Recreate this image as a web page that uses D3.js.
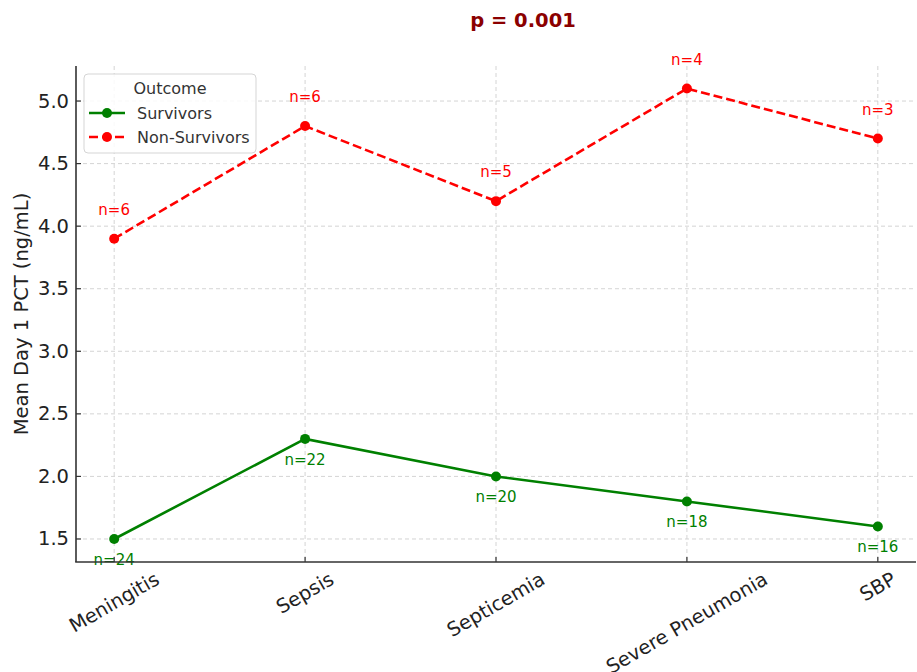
<!DOCTYPE html>
<html>
<head>
<meta charset="utf-8">
<script src="https://cdn.jsdelivr.net/npm/d3@7"></script>
<style>
  body { margin: 0; background: #fff; }
  text { font-family: "DejaVu Sans", sans-serif; }
</style>
</head>
<body>
<svg id="chart" width="917" height="672"></svg>
<script>
// data
const categories = ["Meningitis", "Sepsis", "Septicemia", "Severe Pneumonia", "SBP"];
const survivors = [1.5, 2.3, 2.0, 1.8, 1.6];
const survivorsN = [24, 22, 20, 18, 16];
const nonSurvivors = [3.9, 4.8, 4.2, 5.1, 4.7];
const nonSurvivorsN = [6, 6, 5, 4, 3];
const yTicks = [1.5, 2.0, 2.5, 3.0, 3.5, 4.0, 4.5, 5.0];

const width = 917, height = 672;
const margin = { top: 66, right: 1, bottom: 110, left: 76 };
const svg = d3.select("#chart");

const x = d3.scalePoint()
    .domain(categories)
    .range([margin.left, width - margin.right])
    .padding(0.2);

const y = d3.scaleLinear()
    .domain([1.316, 5.28])
    .range([height - margin.bottom, margin.top]);

const plotBottom = height - margin.bottom;
const tickFont = 19.5;

// grid
svg.append("g").selectAll("line")
    .data(yTicks)
    .join("line")
    .attr("x1", margin.left).attr("x2", width - margin.right)
    .attr("y1", d => y(d)).attr("y2", d => y(d))
    .attr("stroke", "#cfcfcf").attr("stroke-width", 0.9)
    .attr("stroke-dasharray", "4,3");

svg.append("g").selectAll("line")
    .data(categories)
    .join("line")
    .attr("x1", d => x(d)).attr("x2", d => x(d))
    .attr("y1", margin.top).attr("y2", plotBottom)
    .attr("stroke", "#cfcfcf").attr("stroke-width", 0.9)
    .attr("stroke-dasharray", "4,3");

// series
const series = [
    { name: "Survivors", values: survivors, n: survivorsN, color: "green", dash: null, labelDy: 21 },
    { name: "Non-Survivors", values: nonSurvivors, n: nonSurvivorsN, color: "red", dash: "9,4", labelDy: -29 }
];

const line = d3.line()
    .x((d, i) => x(categories[i]))
    .y(d => y(d));

series.forEach(s => {
    svg.append("path")
        .attr("d", line(s.values))
        .attr("fill", "none")
        .attr("stroke", s.color)
        .attr("stroke-width", 2.6)
        .attr("stroke-dasharray", s.dash);

    svg.append("g").selectAll("circle")
        .data(s.values)
        .join("circle")
        .attr("cx", (d, i) => x(categories[i]))
        .attr("cy", d => y(d))
        .attr("r", 5)
        .attr("fill", s.color);

    svg.append("g").selectAll("text")
        .data(s.values)
        .join("text")
        .attr("x", (d, i) => x(categories[i]))
        .attr("y", d => y(d) + s.labelDy)
        .attr("text-anchor", "middle")
        .attr("dominant-baseline", "central")
        .attr("font-size", 15)
        .attr("fill", s.color)
        .text((d, i) => "n=" + s.n[i]);
});

// axes (spines + inward ticks)
const axisColor = "#333";
svg.append("line")
    .attr("x1", margin.left).attr("x2", margin.left)
    .attr("y1", margin.top).attr("y2", plotBottom)
    .attr("stroke", axisColor).attr("stroke-width", 1.6);
svg.append("line")
    .attr("x1", margin.left - 0.8).attr("x2", width - margin.right)
    .attr("y1", plotBottom).attr("y2", plotBottom)
    .attr("stroke", axisColor).attr("stroke-width", 1.6);

svg.append("g").selectAll("line")
    .data(yTicks)
    .join("line")
    .attr("x1", margin.left).attr("x2", margin.left + 5)
    .attr("y1", d => y(d)).attr("y2", d => y(d))
    .attr("stroke", axisColor).attr("stroke-width", 1.2);

svg.append("g").selectAll("text")
    .data(yTicks)
    .join("text")
    .attr("x", margin.left - 7)
    .attr("y", d => y(d))
    .attr("text-anchor", "end")
    .attr("dominant-baseline", "central")
    .attr("font-size", tickFont)
    .attr("fill", "#222")
    .text(d => d.toFixed(1));

svg.append("g").selectAll("line")
    .data(categories)
    .join("line")
    .attr("x1", d => x(d)).attr("x2", d => x(d))
    .attr("y1", plotBottom).attr("y2", plotBottom - 5)
    .attr("stroke", axisColor).attr("stroke-width", 1.2);

// rotated x labels, bounding box centered on tick, top just below axis
const ang = 30 * Math.PI / 180;
const xl = svg.append("g").selectAll("text")
    .data(categories)
    .join("text")
    .attr("text-anchor", "middle")
    .attr("dominant-baseline", "central")
    .attr("font-size", tickFont)
    .attr("fill", "#222")
    .text(d => d);
xl.each(function(d) {
    const L = this.getComputedTextLength();
    const h = tickFont;
    const bh = L * Math.sin(ang) + h * Math.cos(ang);
    const cy = plotBottom + 7 + bh / 2;
    d3.select(this).attr("transform", `translate(${x(d)},${cy}) rotate(-30)`);
});

// y label
svg.append("text")
    .attr("transform", `translate(21,${(margin.top + plotBottom) / 2}) rotate(-90)`)
    .attr("text-anchor", "middle")
    .attr("dominant-baseline", "central")
    .attr("font-size", 19.5)
    .attr("fill", "#222")
    .text("Mean Day 1 PCT (ng/mL)");

// title
svg.append("text")
    .attr("x", 523).attr("y", 20)
    .attr("text-anchor", "middle")
    .attr("dominant-baseline", "central")
    .attr("font-size", 19.5)
    .attr("font-weight", "bold")
    .attr("fill", "darkred")
    .text("p = 0.001");

// legend
const lg = svg.append("g").attr("transform", "translate(84,74)");
lg.append("rect")
    .attr("width", 172).attr("height", 79)
    .attr("rx", 4)
    .attr("fill", "white").attr("fill-opacity", 0.85)
    .attr("stroke", "#d5d5d5");
lg.append("text")
    .attr("x", 86).attr("y", 14)
    .attr("text-anchor", "middle")
    .attr("dominant-baseline", "central")
    .attr("font-size", 16)
    .attr("fill", "#333")
    .text("Outcome");
series.forEach((s, i) => {
    const yy = 39 + i * 24;
    lg.append("line")
        .attr("x1", 5).attr("x2", 41)
        .attr("y1", yy).attr("y2", yy)
        .attr("stroke", s.color).attr("stroke-width", 2.6)
        .attr("stroke-dasharray", s.dash);
    lg.append("circle")
        .attr("cx", 23).attr("cy", yy).attr("r", 5)
        .attr("fill", s.color);
    lg.append("text")
        .attr("x", 53).attr("y", yy)
        .attr("dominant-baseline", "central")
        .attr("font-size", 16)
        .attr("fill", "#333")
        .text(s.name);
});
</script>
</body>
</html>
